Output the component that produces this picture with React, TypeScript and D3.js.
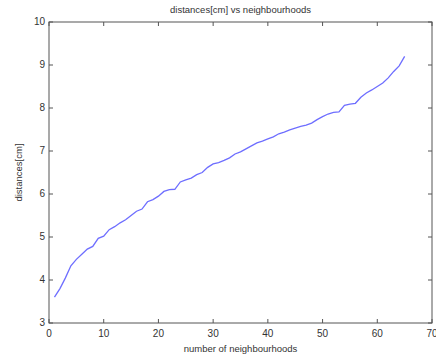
import React from "react";
import * as d3 from "d3";

const neighbourhoods: number[] = Array.from({ length: 65 }, (_, i) => i + 1);
const distances: number[] = [
  3.6, 3.8, 4.05, 4.33, 4.48, 4.6, 4.72, 4.78, 4.97, 5.02,
  5.17, 5.24, 5.33, 5.4, 5.5, 5.6, 5.65, 5.82, 5.87, 5.95,
  6.06, 6.1, 6.11, 6.28, 6.33, 6.37, 6.45, 6.5, 6.62, 6.7,
  6.73, 6.78, 6.84, 6.93, 6.98, 7.05, 7.12, 7.19, 7.23, 7.28,
  7.33, 7.4, 7.44, 7.49, 7.53, 7.57, 7.6, 7.65, 7.73, 7.8,
  7.86, 7.9, 7.91, 8.06, 8.09, 8.11, 8.25, 8.35, 8.42, 8.5,
  8.58, 8.7, 8.85, 8.98, 9.2,
];
const xTicks: number[] = [0, 10, 20, 30, 40, 50, 60, 70];
const yTicks: number[] = [3, 4, 5, 6, 7, 8, 9, 10];
const title = "distances[cm] vs neighbourhoods";
const xLabel = "number of neighbourhoods";
const yLabel = "distances[cm]";

export default function App() {
  const W = 436, H = 363;
  const L = 49, R = 432, T = 22, B = 323;
  const x = d3.scaleLinear().domain([0, 70]).range([L, R]);
  const y = d3.scaleLinear().domain([3, 10]).range([B, T]);
  const line = d3
    .line<number>()
    .x((_, i) => x(neighbourhoods[i]))
    .y((d) => y(d));
  const tl = 4;
  const axisColor = "#555";
  const textColor = "#333";
  const font = "Liberation Sans, Arial, sans-serif";
  return (
    <svg
      width={W}
      height={H}
      style={{ position: "absolute", left: 0, top: 0, background: "#fff" }}
      fontFamily={font}
    >
      <rect x={0} y={0} width={W} height={H} fill="#fff" />
      <path d={line(distances) || ""} fill="none" stroke="#6e6eff" strokeWidth={1.3} />
      <rect x={L} y={T} width={R - L} height={B - T} fill="none" stroke={axisColor} strokeWidth={1} />
      {xTicks.map((t) => (
        <g key={"x" + t}>
          <line x1={x(t)} x2={x(t)} y1={B} y2={B - tl} stroke={axisColor} />
          <line x1={x(t)} x2={x(t)} y1={T} y2={T + tl} stroke={axisColor} />
          <text x={x(t)} y={B + 14} fontSize={10} fill={textColor} textAnchor="middle">
            {t}
          </text>
        </g>
      ))}
      {yTicks.map((t) => (
        <g key={"y" + t}>
          <line x1={L} x2={L + tl} y1={y(t)} y2={y(t)} stroke={axisColor} />
          <line x1={R} x2={R - tl} y1={y(t)} y2={y(t)} stroke={axisColor} />
          <text x={L - 4} y={y(t) + 3} fontSize={10} fill={textColor} textAnchor="end">
            {t}
          </text>
        </g>
      ))}
      <text x={(L + R) / 2} y={13} fontSize={9.5} fill={textColor} textAnchor="middle">
        {title}
      </text>
      <text x={(L + R) / 2} y={352} fontSize={9.5} fill={textColor} textAnchor="middle">
        {xLabel}
      </text>
      <text
        transform={`translate(22,${(T + B) / 2}) rotate(-90)`}
        fontSize={9.5}
        fill={textColor}
        textAnchor="middle"
      >
        {yLabel}
      </text>
    </svg>
  );
}
